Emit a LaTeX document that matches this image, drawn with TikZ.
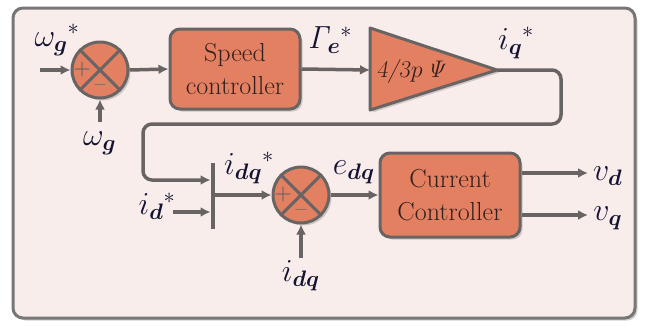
\documentclass[tikz,border=0pt]{standalone}
\usepackage{fix-cm}
\usepackage{amsmath}
\usetikzlibrary{arrows.meta,shadows}
\definecolor{framefill}{RGB}{249,237,235}
\definecolor{framedraw}{RGB}{120,118,118}
\definecolor{boxfill}{RGB}{228,128,98}
\definecolor{linecol}{RGB}{105,100,100}
\definecolor{labcol}{RGB}{20,20,50}
\definecolor{boxtext}{RGB}{50,32,28}
\newcommand\mylab[3]{$#1_{\boldsymbol{#2}}{}^{#3}$}
\begin{document}
\begin{tikzpicture}[x=1pt,y=-1pt,
 conn/.style={draw=linecol, line width=3.5pt, -{Latex[length=10pt,width=10pt]}},
 shd/.style={drop shadow={shadow xshift=2.5pt,shadow yshift=-2.5pt,opacity=0.35}},
 block/.style={draw=linecol, line width=3pt, fill=boxfill, rounded corners=10pt, shd, font=\fontsize{26}{33}\selectfont, text=boxtext, align=center, inner sep=0pt},
 sumj/.style={circle, draw=linecol, line width=3pt, fill=boxfill, minimum size=56pt, inner sep=0pt, shd},
 lbl/.style={font=\fontsize{32}{33}\selectfont, text=labcol, inner sep=0pt},
 sign/.style={font=\fontsize{20}{20}\selectfont\bfseries, text=linecol, inner sep=0pt}]
\useasboundingbox (0,0) rectangle (646,327);
% frame
\draw[draw=framedraw, line width=3pt, fill=framefill, rounded corners=10pt, shd] (13,8) rectangle (635,318);

% summing junction 1
\node[sumj] (s1) at (100,70) {};
\draw[linecol, line width=3pt] (s1.45) -- (s1.225) (s1.135) -- (s1.-45);
\node[sign] (p1) at ([xshift=-18pt]s1.center) {+};
\node[sign] (n1) at ([yshift=-18pt]s1.center) {--};

% speed controller
\node[block, minimum width=130pt, minimum height=80pt] (sc) at (235,69) {Speed\\controller};

% gain triangle
\coordinate (ta) at (370,28);
\coordinate (tb) at (370,110);
\coordinate (tout) at (497,70);
\coordinate (tin) at (370,70);
\draw[draw=linecol, line width=3pt, fill=boxfill, line join=round, shd] (ta) -- (tout) -- (tb) -- cycle;
\node[font=\fontsize{24}{25}\selectfont, text=boxtext, inner sep=0pt] (gain) at (412,71) {\textsl{4/3}$p\,\mathit{\Psi}$};

% summing junction 2
\node[sumj] (s2) at (301,195) {};
\draw[linecol, line width=3pt] (s2.45) -- (s2.225) (s2.135) -- (s2.-45);
\node[sign] (p2) at ([xshift=-18pt]s2.center) {+};
\node[sign] (n2) at ([yshift=-18pt]s2.center) {--};

% current controller
\node[block, minimum width=140pt, minimum height=84pt] (cc) at (450,195) {Current\\Controller};

% mux bar
\node[fill=linecol, minimum width=4.5pt, minimum height=66pt, inner sep=0pt] (mux) at (213,196) {};

% coordinates
\coordinate (win) at (40,70);
\coordinate (wfb) at (100,122);
\coordinate (c1) at (561,70);
\coordinate (c2) at (561,124);
\coordinate (c3) at (143,124);
\coordinate (c4) at (143,180);
\coordinate (idin) at (173,212);
\coordinate (ifb) at (301,258);
\coordinate (vd) at (588,173);
\coordinate (vq) at (588,215);

% connectors
\draw[conn] (win) -- (s1.west);
\draw[conn] (wfb) -- (s1.south);
\draw[conn] (s1.east) -- (sc.west);
\draw[conn] (sc.east) -- (tin);
\draw[conn, rounded corners=9pt] (tout) -- (c1) -- (c2) -- (c3) -- (c4) -- (mux.west |- c4);
\draw[conn] (idin) -- (mux.west |- idin);
\draw[conn] (mux.east |- s2.west) -- (s2.west);
\draw[conn] (ifb) -- (s2.south);
\draw[conn] (s2.east) -- (cc.west);
\draw[conn] (cc.east |- vd) -- (vd);
\draw[conn] (cc.east |- vq) -- (vq);

% labels
\node[lbl] (lwref) at (57,40) {\mylab{\omega}{g}{*}};
\node[lbl] (lw) at (100,143) {\mylab{\omega}{g}{}};
\node[lbl] (lte) at (330,40) {\mylab{\mathit{\Gamma}}{e}{*}};
\node[lbl] (liq) at (516,43) {\mylab{i}{q}{*}};
\node[lbl] (lidqref) at (249,168) {\mylab{i}{dq}{*}};
\node[lbl] (lid) at (157,206) {\mylab{i}{d}{*}};
\node[lbl] (ledq) at (354,172) {\mylab{e}{dq}{}};
\node[lbl] (lidq) at (301,276) {\mylab{i}{dq}{}};
\node[lbl] (lvd) at (608,176) {\mylab{v}{d}{}};
\node[lbl] (lvq) at (608,218) {\mylab{v}{q}{}};
\end{tikzpicture}
\end{document}
